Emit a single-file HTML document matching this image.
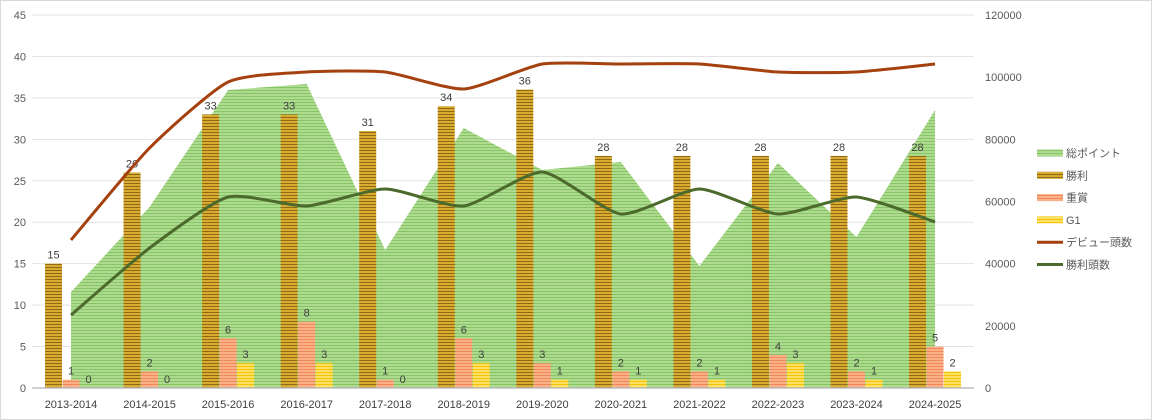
<!DOCTYPE html>
<html><head><meta charset="utf-8"><style>
body{margin:0;background:#fff;}
svg{display:block;font-family:"Liberation Sans","Noto Sans CJK JP",sans-serif;}
</style></head><body>
<svg id="c" width="1152" height="420" xmlns="http://www.w3.org/2000/svg">
<defs>
<pattern id="pg" width="4" height="3" patternUnits="userSpaceOnUse"><rect width="4" height="3" fill="#aedb90"/><rect width="4" height="1" fill="#86c566"/></pattern>
<pattern id="pw" width="4" height="3" patternUnits="userSpaceOnUse"><rect width="4" height="3" fill="#d9ab30"/><rect width="4" height="1" fill="#8f6a14"/></pattern>
<pattern id="pj" width="4" height="3" patternUnits="userSpaceOnUse"><rect width="4" height="3" fill="#fbb088"/><rect width="4" height="1" fill="#ee8a5a"/></pattern>
<pattern id="py" width="4" height="3" patternUnits="userSpaceOnUse"><rect width="4" height="3" fill="#ffe066"/><rect width="4" height="1" fill="#f5c400"/></pattern>
</defs>
<rect x="0.5" y="0.5" width="1151" height="419" fill="#fff" stroke="#d9d9d9"/>
<g id="g"></g>
</svg>
<script>
const g=document.getElementById('g');let s='';
const y0=388,u=373/45,cx=i=>71+i*78.55;
for(let v=0;v<=45;v+=5){const y=y0-v*u;s+=`<line x1="32" x2="974" y1="${y}" y2="${y}" stroke="#e3e3e3"/>`;s+=`<text x="26" y="${y+4}" font-size="11" fill="#595959" text-anchor="end">${v}</text>`;}
for(let v=0;v<=120000;v+=20000){const y=y0-v/120000*373;s+=`<text x="985" y="${y+4}" font-size="11" fill="#595959">${v}</text>`;}
const area=[292,207,90,84,250,128,170,162,266,163,237,110];
let p=`M${cx(0)},${y0} `+area.map((y,i)=>`L${cx(i)},${y}`).join(' ')+` L${cx(11)},${y0}Z`;
s+=`<path d="${p}" fill="url(#pg)"/>`;
const W=[15,26,33,33,31,34,36,28,28,28,28,28],J=[1,2,6,8,1,6,3,2,2,4,2,5],G=[0,0,3,3,0,3,1,1,1,3,1,2];
const cats=['2013-2014','2014-2015','2015-2016','2016-2017','2017-2018','2018-2019','2019-2020','2020-2021','2021-2022','2022-2023','2023-2024','2024-2025'];
cats.forEach((c,i)=>{const x=cx(i);
[[W[i],-26,'pw'],[J[i],-8.5,'pj'],[G[i],9,'py']].forEach(([v,o,f])=>{const h=v*u;if(h>0)s+=`<rect x="${x+o}" y="${y0-h}" width="17" height="${h}" fill="url(#${f})"/>`;s+=`<text x="${x+o+8.5}" y="${y0-h-5}" font-size="11" fill="#404040" text-anchor="middle">${v}</text>`;});
s+=`<text x="${x}" y="408" font-size="11" fill="#404040" text-anchor="middle">${c}</text>`;});
s+=`<line x1="32" x2="974" y1="${y0}" y2="${y0}" stroke="#bfbfbf" stroke-width="1.5"/>`;
function smooth(ys){const P=ys.map((y,i)=>[cx(i),y]);let d=`M${P[0][0]},${P[0][1]}`;for(let i=0;i<P.length-1;i++){const a=P[Math.max(i-1,0)],b=P[i],c=P[i+1],e=P[Math.min(i+2,P.length-1)];const t=0.1;d+=` C${b[0]+(c[0]-a[0])*t},${b[1]+(c[1]-a[1])*t} ${c[0]-(e[0]-b[0])*t},${c[1]-(e[1]-b[1])*t} ${c[0]},${c[1]}`;}return d;}
s+=`<path d="${smooth([240,148,82,72,72,89,64,64,64,72,72,64])}" fill="none" stroke="#a5410e" stroke-width="3"/>`;
s+=`<path d="${smooth([315,248,197,206,189,206,172,214,189,214,197,222])}" fill="none" stroke="#4b6a2c" stroke-width="3"/>`;
const L=[['総ポイント','pg'],['勝利','pw'],['重賞','pj'],['G1','py'],['デビュー頭数','#a5410e'],['勝利頭数','#4b6a2c']];
L.forEach(([t,f],i)=>{const y=153+i*22.3;if(f[0]=='#')s+=`<line x1="1037" x2="1063" y1="${y}" y2="${y}" stroke="${f}" stroke-width="3"/>`;else s+=`<rect x="1037" y="${y-3.5}" width="26" height="7" fill="url(#${f})"/>`;s+=`<text x="1066" y="${y+4}" font-size="11" fill="#595959">${t}</text>`;});
g.innerHTML=s;
</script>
</body></html>
